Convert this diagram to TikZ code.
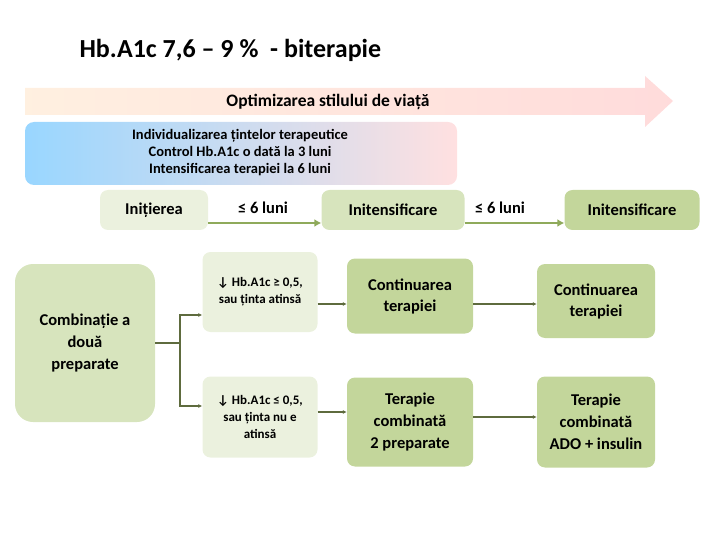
\documentclass[tikz,border=0pt]{standalone}
\usepackage{fontspec}
\setmainfont{Carlito}
\usetikzlibrary{arrows.meta,shapes.arrows}
\definecolor{g1}{HTML}{EBF1DE}
\definecolor{g2}{HTML}{D7E4BD}
\definecolor{g3}{HTML}{C3D69B}
\definecolor{ar}{HTML}{8FAA5B}
\definecolor{dk}{HTML}{5E6B3E}
\begin{document}
\begin{tikzpicture}[x=1pt,y=-1pt,font=\bfseries,
  bx/.style={rounded corners=8pt,align=center,inner sep=2pt},
  lin/.style={draw=dk,line width=1.6pt,-{Latex[length=4pt,width=4pt]}},
  top/.style={draw=ar,line width=2pt,-{Latex[length=7pt,width=8pt]}}]
\useasboundingbox (0,0) rectangle (720,540);
\node[anchor=west,font=\bfseries\fontsize{26}{28}\selectfont] (title) at (76,50) {Hb.A1c 7,6 – 9 \%\ \ - biterapie};
\shade[left color=orange!12,right color=red!14] (25,88) -- (645,88) -- (645,76) -- (673,101) -- (645,127) -- (645,115) -- (25,115) -- cycle;
\node[font=\bfseries\fontsize{17.5}{19}\selectfont] (opt) at (328,102) {Optimizarea stilului de viață};
\shade[rounded corners=9pt,left color=blue!40!cyan!40,right color=red!12] (25,122) rectangle (457,185);
\node[align=center,font=\bfseries\fontsize{14.5}{17}\selectfont] (ind) at (240,153) {Individualizarea țintelor terapeutice\\Control Hb.A1c o dată la 3 luni\\Intensificarea terapiei la 6 luni};
\node[bx,fill=g1,minimum width=108pt,minimum height=40pt,font=\bfseries\fontsize{16.5}{18}\selectfont] (i1) at (154,210) {Inițierea};
\node[bx,fill=g2,minimum width=143pt,minimum height=40pt,font=\bfseries\fontsize{16.5}{18}\selectfont] (i2) at (393,210) {Initensificare};
\node[bx,fill=g3,minimum width=135pt,minimum height=40pt,font=\bfseries\fontsize{16.5}{18}\selectfont] (i3) at (632,210) {Initensificare};
\draw[top] (i1.east|-0,223) -- (i2.west|-0,223);
\draw[top] (i2.east|-0,223) -- (i3.west|-0,223);
\node[font=\bfseries\fontsize{16.5}{18}\selectfont] (l1) at (263,208) {≤ 6 luni};
\node[font=\bfseries\fontsize{16.5}{18}\selectfont] (l2) at (500,208) {≤ 6 luni};
\node[bx,fill=g2,rounded corners=18pt,minimum width=140pt,minimum height=158pt,font=\bfseries\fontsize{16.5}{22}\selectfont] (c) at (85,343) {Combinație a\\două\\preparate};
\node[bx,fill=g1,minimum width=115pt,minimum height=80pt,font=\bfseries\fontsize{13}{17}\selectfont] (b1) at (260,292) {↓ Hb.A1c ≥ 0,5,\\sau ținta atinsă};
\node[bx,fill=g1,minimum width=115pt,minimum height=81pt,font=\bfseries\fontsize{13}{17}\selectfont] (b2) at (260,417) {↓ Hb.A1c ≤ 0,5,\\sau ținta nu e\\atinsă};
\node[bx,fill=g3,minimum width=126pt,minimum height=75pt,font=\bfseries\fontsize{16.5}{21}\selectfont] (m1) at (410,296) {Continuarea\\terapiei};
\node[bx,fill=g3,minimum width=126pt,minimum height=89pt,font=\bfseries\fontsize{16.5}{22}\selectfont] (m2) at (410,422) {Terapie\\combinată\\2 preparate};
\node[bx,fill=g3,minimum width=118pt,minimum height=74pt,font=\bfseries\fontsize{16.5}{21}\selectfont] (r1) at (596,301) {Continuarea\\terapiei};
\node[bx,fill=g3,minimum width=118pt,minimum height=91pt,font=\bfseries\fontsize{16.5}{22}\selectfont] (r2) at (596,422) {Terapie\\combinată\\ADO + insulin};
\coordinate (br) at (180,343);
\draw[dk,line width=1.6pt] (c.east|-br) -- (br);
\draw[lin] (br) |- (b1.west|-0,315);
\draw[lin] (br) |- (b2.west|-0,406);
\draw[lin] (b1.east|-0,304) -- (m1.west|-0,304);
\draw[lin] (m1.east|-0,304) -- (r1.west|-0,304);
\draw[lin] (b2.east|-0,412) -- (m2.west|-0,412);
\draw[lin] (m2.east|-0,417) -- (r2.west|-0,417);
\end{tikzpicture}
\end{document}
